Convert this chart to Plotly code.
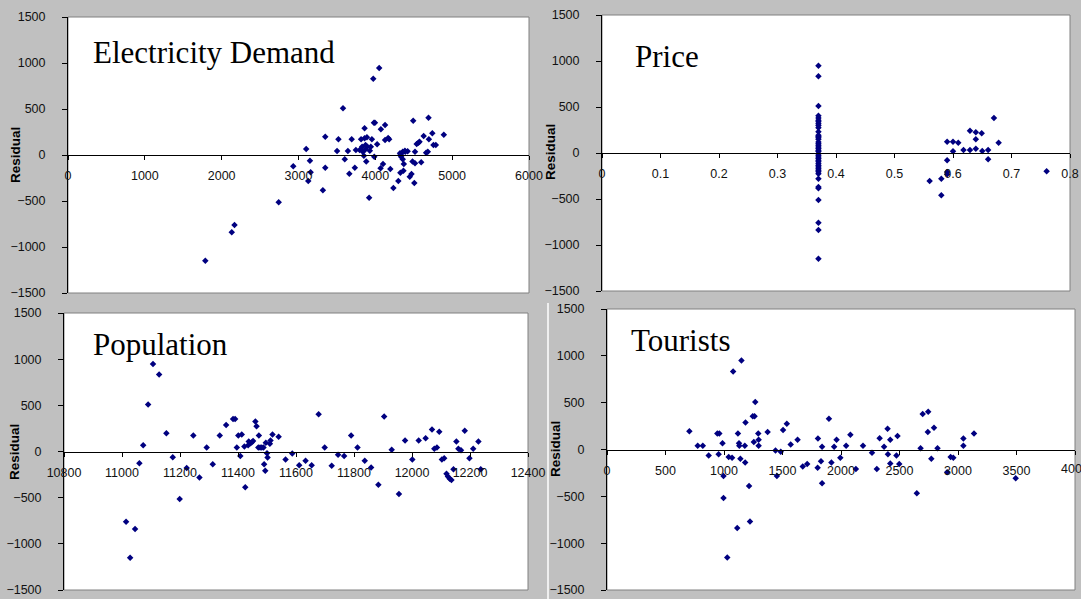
import plotly.graph_objects as go

W, H = 1081, 599

# ---------------- data ----------------
elec_x = [1787, 2131, 2167, 2742, 2932, 3100, 3149, 3158, 3127, 3317, 3348, 3348, 3520, 3502,
          3579, 3602, 3643, 3661, 3692, 3733, 3747, 3796, 3814, 3828, 3837, 3851, 3860, 3860,
          3873, 3882, 3891, 3896, 3919, 3928, 3941, 3955, 3973, 3982, 3986, 3995, 4023, 4050,
          4072, 4068, 4100, 4127, 4127, 4167, 4195, 4235, 4299, 4321, 4326, 4335, 4357, 4357,
          4366, 4371, 4385, 4389, 4448, 4471, 4484, 4493, 4507, 4516, 4516, 4538, 4561, 4575,
          4597, 4629, 4661, 4683, 4692, 4697, 4742, 4756, 4787, 4891, 4180, 3870, 4330, 4420]
elec_res = [-1149, -841, -761, -514, -123, 65, -62, -188, -283, -384, 199, -138, 170, 43,
            507, -47, 43, -203, 170, -138, 54, 54, 170, 91, 36, -7, 290, 181,
            109, -72, 192, 91, -464, 47, 91, 170, 830, 351, -18, 351, 116, 946,
            279, -145, -98, 326, 163, 185, -152, -359, -283, 18, -192, -18, 36, -47,
            -170, -98, 47, 36, -236, -207, -72, 373, -304, -91, 36, 120, 134, 145,
            -80, 207, 25, 36, 406, 170, 236, 109, 109, 221, 170, 60, 5, 40]

price_x = [0.37, 0.37, 0.37, 0.37, 0.37, 0.37, 0.37, 0.37, 0.37, 0.37, 0.37, 0.37, 0.37, 0.37,
           0.37, 0.37, 0.37, 0.37, 0.37, 0.37, 0.37, 0.37, 0.37, 0.37, 0.37, 0.37, 0.37, 0.37,
           0.37, 0.37, 0.37, 0.37, 0.37, 0.37, 0.37, 0.37, 0.37, 0.37, 0.37, 0.37, 0.37, 0.37,
           0.56, 0.58, 0.58, 0.59, 0.59, 0.59, 0.59, 0.60, 0.60, 0.609, 0.618, 0.629, 0.629,
           0.639, 0.639, 0.639, 0.649, 0.65, 0.66, 0.66, 0.67, 0.678, 0.76]
price_res = [949, 833, 511, 406, 380, 355, 340, 319, 300, 275, 230, 192, 180, 167, 150, 120,
             101, 85, 65, 50, 29, 15, -7, -25, -43, -60, -80, -95, -116, -135, -152, -170,
             -188, -205, -225, -279, -370, -384, -511, -757, -837, -1149,
             -304, -279, -460, 123, -80, -207, -232, 123, 18, 112, 33, 243, 33,
             225, 149, 47, 214, 22, 33, -69, 380, 112, -199]

pop_x = [11014, 11028, 11045, 11060, 11073, 11090, 11107, 11128, 11153, 11175, 11199, 11223,
         11246, 11267, 11292, 11313, 11337, 11359, 11383, 11390, 11396, 11401, 11408, 11413,
         11425, 11422, 11435, 11437, 11442, 11447, 11452, 11460, 11464, 11470, 11472, 11476,
         11482, 11488, 11490, 11494, 11496, 11500, 11502, 11510, 11512, 11519, 11540, 11564,
         11587, 11611, 11633, 11654, 11678, 11699, 11723, 11745, 11766, 11790, 11812, 11837,
         11859, 11884, 11904, 11930, 11955, 11976, 12001, 12023, 12047, 12069, 12077, 12086,
         12094, 12103, 12111, 12119, 12124, 12130, 12136, 12143, 12153, 12160, 12169, 12182,
         12198, 12211, 12229, 12237]
pop_res = [-761, -1150, -840, -126, 68, 508, 948, 833, 198, -61, -515, -180,
           173, -281, 43, -137, 173, 288, 353, 353, 43, 173, -50, 184,
           -386, 54, 68, 108, 90, 97, 115, 324, 274, 43, 173, 43,
           43, 43, -137, -209, 94, -18, -65, 83, 119, 184, 159, -87,
           -22, -148, -101, -148, 404, 43, -155, -36, -50, 173, 43, -101,
           -173, -360, 379, 18, -461, 119, -87, 119, 144, 238, 29, 43,
           213, -87, -72, -242, -270, -296, -310, -191, 108, 29, 14, 224,
           -72, 29, 108, -191]

tour_x = [704, 775, 819, 869, 943, 954, 960, 987, 996, 996, 1028, 1040, 1069, 1078, 1113,
          1119, 1128, 1131, 1140, 1149, 1178, 1181, 1184, 1214, 1222, 1246, 1261, 1255, 1267,
          1293, 1296, 1296, 1373, 1440, 1452, 1485, 1505, 1537, 1570, 1629, 1673, 1711, 1803,
          1800, 1829, 1838, 1838, 1897, 1918, 1941, 1962, 1994, 2044, 2080, 2127, 2188, 2265,
          2306, 2330, 2368, 2398, 2401, 2421, 2421, 2474, 2483, 2498, 2648, 2680, 2698, 2745,
          2742, 2772, 2795, 2825, 2907, 2937, 2960, 3046, 3046, 3137, 3493]
tour_res = [196, 39, 39, -64, 171, -50, 171, 68, -282, -518, -1154, -79, -89, 832, -839,
            171, 68, 39, -100, 950, 39, -139, 289, -389, -768, 354, 354, 79, 507,
            171, 104, 39, 186, -11, -282, -25, 207, 275, 54, 104, -182, -154, 118,
            -196, -125, -361, 29, 329, -139, 29, 104, -89, 39, 157, -207, 39, -36,
            -207, 121, 29, 221, -50, 104, -150, -64, 143, -154, -468, 14, 379, 404,
            186, -100, 232, 14, -243, -79, -89, 118, 39, 171, -307]

titles = ["Electricity Demand", "Price", "Population", "Tourists"]
x_ranges = [[0, 6000], [0, 0.8], [10800, 12400], [0, 4000]]
x_dticks = [1000, 0.1, 200, 500]
x_formats = ["d", "", "d", "d"]
y_range = [-1500, 1500]
y_dtick = 500
y_label = "Residual"

# ---------------- layout geometry (pixels) ----------------
boxes = [(68, 17, 529, 293), (602, 15, 1070, 291), (64, 313, 528, 590), (607, 309, 1075, 590)]
title_pos = [(91, 53), (633, 57), (91, 344), (629, 341)]
ylab_pos = [(15, 155), (550, 152), (14, 452), (555, 449)]

series = [(elec_x, elec_res), (price_x, price_res), (pop_x, pop_res), (tour_x, tour_res)]

def px(x):
    return x / W

def py(y):
    return 1 - y / H

fig = go.Figure()
tick_font = dict(family="Liberation Sans, Arial", size=12.5, color="#111111")
shapes = []
annotations = []

for i, ((xs, ys), box) in enumerate(zip(series, boxes)):
    n = "" if i == 0 else str(i + 1)
    x0, y0, x1, y1 = box
    fig.add_trace(go.Scatter(
        x=xs, y=ys, mode="markers", xaxis="x" + n, yaxis="y" + n,
        marker=dict(symbol="diamond", size=5, color="#000080"),
        showlegend=False, hoverinfo="skip"))
    zero_pos = py((y0 + y1) / 2)
    fig.update_layout(**{
        "xaxis" + n: dict(domain=[px(x0), px(x1)], range=x_ranges[i], dtick=x_dticks[i],
                          tick0=x_ranges[i][0], tickformat=x_formats[i], automargin=False,
                          anchor="free", position=zero_pos, showline=True, linecolor="#000000",
                          linewidth=1, ticks="outside", ticklen=4, tickcolor="#000000",
                          showgrid=False, zeroline=False, tickfont=tick_font,
                          ticklabelstandoff=5, fixedrange=True),
        "yaxis" + n: dict(domain=[py(y1), py(y0)], range=y_range, dtick=y_dtick,
                          anchor="x" + n, showline=True, linecolor="#000000", linewidth=1,
                          ticks="outside", ticklen=5, tickcolor="#000000", automargin=False,
                          showgrid=False, zeroline=False, tickfont=tick_font,
                          ticklabelstandoff=14, fixedrange=True),
    })
    shapes.append(dict(type="rect", xref="paper", yref="paper", x0=px(x0), x1=px(x1),
                       y0=py(y1), y1=py(y0), fillcolor="#ffffff",
                       line=dict(color="#808080", width=1), layer="below"))
    tx, ty = title_pos[i]
    annotations.append(dict(text=titles[i], xref="paper", yref="paper", x=px(tx), y=py(ty),
                            xanchor="left", yanchor="middle", showarrow=False,
                            font=dict(family="Liberation Serif, Times New Roman", size=31,
                                      color="#000000")))
    lx, ly = ylab_pos[i]
    annotations.append(dict(text="<b>" + y_label + "</b>", xref="paper", yref="paper",
                            x=px(lx), y=py(ly), xanchor="center", yanchor="middle",
                            textangle=-90, showarrow=False,
                            font=dict(family="Liberation Sans, Arial", size=13.5,
                                      color="#000000")))

# last Tourists tick label, cut off by the picture's right edge
last_tick = str(x_ranges[3][1])
annotations.append(dict(text=last_tick, xref="x4", yref="paper", x=x_ranges[3][1],
                        y=py((boxes[3][1] + boxes[3][3]) / 2 + 19), xanchor="center",
                        yanchor="middle", showarrow=False, font=tick_font))

# thin white seam between the lower panels
shapes.append(dict(type="line", xref="paper", yref="paper", x0=px(548), x1=px(548),
                   y0=py(303), y1=0, line=dict(color="#ffffff", width=1.5), layer="below"))

fig.update_layout(width=W, height=H, autosize=False,
                  margin=dict(l=0, r=0, t=0, b=0, pad=0),
                  paper_bgcolor="#c0c0c0", plot_bgcolor="rgba(0,0,0,0)",
                  shapes=shapes, annotations=annotations, hovermode=False)

fig.write_html("out.html", config={"displayModeBar": False, "staticPlot": True},
               post_script="document.body.style.margin='0';document.body.style.overflow='hidden';")
